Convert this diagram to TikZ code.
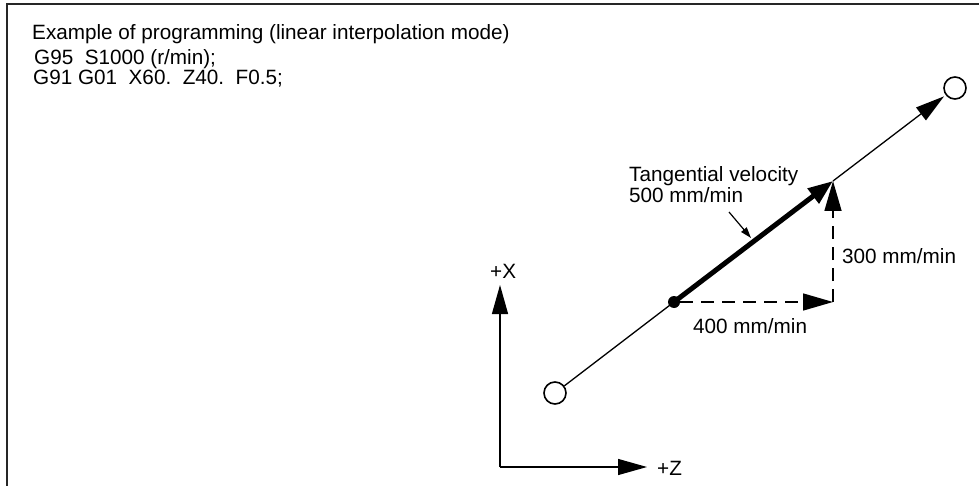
\documentclass[tikz,border=0pt]{standalone}
\usepackage{fontspec}
\setmainfont{Liberation Sans}
\usetikzlibrary{arrows.meta}
\begin{document}
\begin{tikzpicture}[x=1pt,y=-1pt,
  lbl/.style={font=\fontsize{20.7}{22}\selectfont, inner sep=0pt, anchor=base west},
  bighead/.style={-{Triangle[length=29pt,width=16pt]}},
  thinline/.style={line width=1.3pt},
  dashline/.style={line width=1.5pt, dash pattern=on 13pt off 8pt},
  hole/.style={circle, draw, line width=1.6pt, fill=white, minimum size=22pt, inner sep=0pt},
  blob/.style={circle, fill=black, minimum size=12pt, inner sep=0pt}]
\useasboundingbox (0,0) rectangle (979,486);
% frame
\draw[line width=2pt, black!85] (7,486) -- (7,4) -- (979,4);
% program text
\node[lbl] (title) at (32,40) {Example of programming (linear interpolation mode)};
\node[lbl] (l1) at (34,65) {G95\ \ S1000 (r/min);};
\node[lbl] (l2) at (33,85) {G91 G01\ \ X60.\ \ Z40.\ \ F0.5;};
% axes
\coordinate (o) at (500,467);
\coordinate (xt) at (500,285);
\coordinate (zt) at (647,467);
\draw[thinline, bighead] (o) -- (xt);
\draw[thinline, bighead] (o) -- (zt);
\node[lbl] (xl) at (490,278) {+X};
\node[lbl] (zl) at (657,475) {+Z};
% path
\node[hole] (start) at (555,393) {};
\node[hole] (finish) at (955,88) {};
\node[blob] (dot) at (674,302) {};
\coordinate (corner) at (833,181);
\coordinate (foot) at (833,302);
\draw[thinline] (start) -- (dot.center);
\draw[line width=5pt, -{Triangle[length=25pt,width=18pt]}] (dot.center) -- (corner);
\draw[thinline, bighead, shorten >=2pt] (corner) -- (finish);
\draw[dashline, -{Triangle[length=30pt,width=17pt,sep=0pt]}] (dot) -- (foot);
\draw[dashline, -{Triangle[length=30pt,width=17pt]}] (foot) -- (corner);
% labels
\node[lbl] (tv1) at (629,182) {Tangential velocity};
\node[lbl] (tv2) at (629,203) {500 mm/min};
\coordinate (lead) at (729,212);
\coordinate (leadtip) at (751,238);
\draw[line width=1.2pt, -{Triangle[length=11pt,width=7pt]}] (lead) -- (leadtip);
\node[lbl] (v300) at (842,264) {300 mm/min};
\node[lbl] (v400) at (693,333) {400 mm/min};
\end{tikzpicture}
\end{document}
